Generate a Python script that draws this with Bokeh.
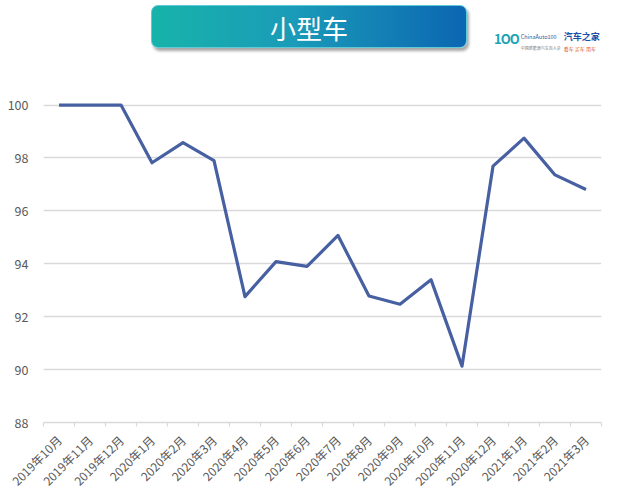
import math
from bokeh.plotting import figure
from bokeh.models import Range1d, FixedTicker, Div
from bokeh.layouts import column
from bokeh.embed import file_html
from bokeh.resources import INLINE

months = ["2019年10月", "2019年11月", "2019年12月", "2020年1月", "2020年2月", "2020年3月",
          "2020年4月", "2020年5月", "2020年6月", "2020年7月", "2020年8月", "2020年9月",
          "2020年10月", "2020年11月", "2020年12月", "2021年1月", "2021年2月", "2021年3月"]
values = [100, 100, 100, 97.82, 98.58, 97.9, 92.76, 94.08, 93.9, 95.07, 92.78, 92.47,
          93.4, 90.13, 97.69, 98.75, 97.36, 96.81]
y_ticks = [88, 90, 92, 94, 96, 98, 100]
title_text = "小型车"

FONT = "Noto Sans CJK SC"

header = Div(
    width=605, height=50,
    text=(
        '<div style="position:relative;width:605px;height:50px;">'
        '<div style="position:absolute;left:146px;top:0px;width:316px;height:43px;'
        'border-radius:7px;background:linear-gradient(to right,#17b3aa,#1a9bb8 45%,#0c66b2);'
        'border:1px solid #5fc9d6;box-shadow:2px 3px 3px rgba(0,0,0,0.35);'
        'color:#ffffff;font-size:26px;font-family:\'Noto Sans CJK SC\';text-align:center;'
        'line-height:43px;">' + title_text + '</div>'
        '<div style="position:absolute;left:489px;top:25px;height:18px;white-space:nowrap;'
        'font-family:\'Noto Sans CJK SC\';">'
        '<span style="color:#1aa3b5;font-weight:bold;font-size:13px;letter-spacing:-1px;">1OO</span>'
        '<span style="display:inline-block;vertical-align:top;margin-left:2px;line-height:7px;">'
        '<span style="font-size:5.5px;color:#1a5fa8;">ChinaAuto100</span><br>'
        '<span style="font-size:4px;color:#777;">中国新能源汽车百人会</span></span>'
        '<span style="display:inline-block;vertical-align:top;margin-left:3px;line-height:9px;">'
        '<span style="font-size:9px;font-weight:bold;color:#1c4fa5;">汽车之家</span><br>'
        '<span style="font-size:5px;color:#e05a2a;">看车 买车 用车</span></span>'
        '</div></div>'
    ),
)

x = list(range(len(months)))

p = figure(frame_width=558, frame_height=328, output_backend="svg", toolbar_location=None,
           x_range=Range1d(-0.5, len(months) - 0.5), y_range=Range1d(88, 100.4),
           min_border_left=43, min_border_right=4, min_border_top=34, min_border_bottom=67)
p.outline_line_color = None
p.background_fill_color = "white"
p.border_fill_color = "white"

p.line(x, values, line_color="#4760a2", line_width=3.2, line_join="round")

# y axis
p.yaxis.ticker = FixedTicker(ticks=y_ticks)
p.yaxis.axis_line_color = None
p.yaxis.major_tick_line_color = None
p.yaxis.major_tick_out = 0
p.yaxis.minor_tick_line_color = None
p.yaxis.major_label_text_font = FONT
p.yaxis.major_label_text_font_size = "12.5px"
p.yaxis.major_label_text_color = "#595959"
p.yaxis.major_label_standoff = 15

p.ygrid.ticker = FixedTicker(ticks=y_ticks)
p.ygrid.grid_line_color = "#d9d9d9"
p.ygrid.grid_line_width = 1.5
p.xgrid.grid_line_color = None

# x axis
p.xaxis.ticker = FixedTicker(ticks=x, minor_ticks=[i - 0.5 for i in range(len(months) + 1)])
p.xaxis.major_label_overrides = {i: m for i, m in enumerate(months)}
p.xaxis.major_label_orientation = math.pi / 4
p.xaxis.axis_line_color = "#d9d9d9"
p.xaxis.axis_line_width = 1.5
p.xaxis.major_tick_line_color = None
p.xaxis.major_tick_out = 0
p.xaxis.minor_tick_line_color = "#d9d9d9"
p.xaxis.minor_tick_line_width = 1.2
p.xaxis.minor_tick_out = 4
p.xaxis.minor_tick_in = 0
p.xaxis.major_label_text_font = FONT
p.xaxis.major_label_text_font_size = "12px"
p.xaxis.major_label_text_color = "#595959"
p.xaxis.major_label_standoff = 11

layout = column(header, p, spacing=0)

open("out.html", "w").write(file_html(layout, INLINE))
